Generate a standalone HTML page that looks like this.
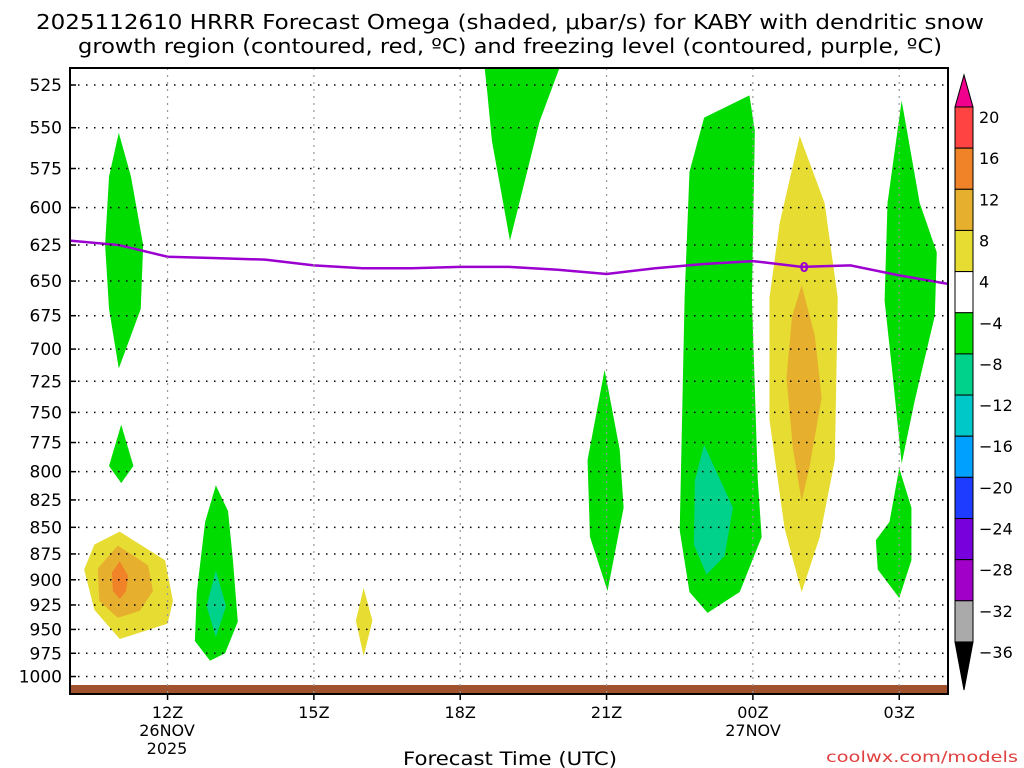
<!DOCTYPE html>
<html><head><meta charset="utf-8"><style>
body{margin:0;background:#fff;width:1024px;height:768px;overflow:hidden}
svg{display:block;font-family:"DejaVu Sans","Liberation Sans",sans-serif}
</style></head><body>
<svg id="c" width="1024" height="768"></svg>
<script>
const pressureTicks=[525,550,575,600,625,650,675,700,725,750,775,800,825,850,875,900,925,950,975,1000];
const timeTicks=[12,15,18,21,24,27];
const timeLabels=["12Z","15Z","18Z","21Z","00Z","03Z"];
const freezeHours=[10,11,12,13,14,15,16,17,18,19,20,21,22,23,24,25,26,27,28];
const freezeP=[622,625,633,634,635,639,641,641,640,640,642,645,641,638,636,640,639,646,652];
const cbLevels=["20","16","12","8","4","-4","-8","-12","-16","-20","-24","-28","-32","-36"];
const cbColors=["#ff4242","#f08228","#e6af2d","#e6dc32","#ffffff","#00dc00","#00d28c","#00c8c8","#00a0ff","#1e3cff","#7800dc","#a000c8","#aaaaaa"];
const shapes=[
{c:"#00dc00",pts:[[11.0,553],[11.25,580],[11.5,625],[11.45,670],[11.0,715],[10.8,670],[10.72,625],[10.8,580]]},
{c:"#00dc00",pts:[[11.05,760],[11.3,795],[11.05,810],[10.8,795]]},
{c:"#e6dc32",pts:[[11.02,854],[11.95,881],[12.11,921],[12.0,944],[11.02,960],[10.5,930],[10.29,890],[10.5,866]]},
{c:"#e6af2d",pts:[[10.98,867],[11.6,886],[11.7,911],[11.43,931],[10.98,938],[10.6,921],[10.57,889]]},
{c:"#f08228",pts:[[11.02,882],[11.19,896],[11.15,911],[11.02,919],[10.88,911],[10.86,893]]},
{c:"#00dc00",pts:[[12.99,812],[13.24,835],[13.34,881],[13.44,942],[13.18,975],[12.87,983],[12.56,962],[12.6,912],[12.77,845]]},
{c:"#00d28c",pts:[[12.99,891],[13.2,926],[12.99,958],[12.8,926]]},
{c:"#e6dc32",pts:[[16.02,908],[16.2,941],[16.02,978],[15.86,941]]},
{c:"#00dc00",pts:[[18.5,515],[20.04,515],[19.63,546],[19.02,622],[18.65,558],[18.55,528]]},
{c:"#00dc00",pts:[[20.96,716],[21.27,781],[21.35,832],[21.02,911],[20.66,859],[20.61,790]]},
{c:"#00dc00",pts:[[23.93,531],[23.0,544],[22.7,577],[22.6,662],[22.5,853],[22.7,912],[23.07,933],[23.73,912],[24.18,859],[24.1,807],[23.98,662],[24.04,552]]},
{c:"#00d28c",pts:[[23.0,777],[23.59,832],[23.42,877],[23.05,895],[22.79,866],[22.81,808]]},
{c:"#e6dc32",pts:[[24.96,555],[25.47,597],[25.74,662],[25.68,790],[25.37,859],[25.0,912],[24.65,851],[24.34,756],[24.34,662],[24.55,610]]},
{c:"#e6af2d",pts:[[25.0,653],[25.27,690],[25.41,738],[25.16,796],[25.0,826],[24.82,780],[24.69,722],[24.8,676]]},
{c:"#00dc00",pts:[[27.05,534],[27.42,597],[27.77,630],[27.73,675],[27.32,740],[27.05,793],[26.87,722],[26.7,664],[26.76,597]]},
{c:"#00dc00",pts:[[27.0,797],[27.25,832],[27.25,881],[27.0,918],[26.56,890],[26.52,862],[26.8,845]]}
];
const PL=70,PR=948,PT=68,PB=694;
const X=h=>PL+(h-10)*(PR-PL)/18;
const Y=p=>85+918*Math.log(p/525);
const svgRoot=document.getElementById('c');
const NS="http://www.w3.org/2000/svg";
function el(tag,attrs,parent){const e=document.createElementNS(NS,tag);for(const k in attrs)e.setAttribute(k,attrs[k]);(parent||svgRoot).appendChild(e);return e;}
const clip=el('clipPath',{id:'pc'});el('rect',{x:PL,y:PT,width:PR-PL,height:PB-PT},clip);
const g=el('g',{'clip-path':'url(#pc)'});
shapes.forEach((s,i)=>{const e=el('polygon',{points:s.pts.map(q=>X(q[0])+','+Y(q[1])).join(' '),fill:s.c,'stroke-linejoin':'round'},g);

});
const gr=el('rect',{x:PL,y:685,width:PR-PL,height:10,fill:'#a0522d'},g);


pressureTicks.forEach(p=>{const y=Y(p);
el('line',{x1:PL,x2:PR,y1:y,y2:y,stroke:'#000','stroke-dasharray':'1.5 6.5','stroke-width':1.5});
el('line',{x1:PL,x2:PL+6,y1:y,y2:y,stroke:'#000','stroke-width':1.5});
const t=el('text',{x:62,y:y+6,'text-anchor':'end','font-size':17});t.textContent=p;

});
timeTicks.forEach((h,i)=>{const x=X(h);
el('line',{x1:x,x2:x,y1:PT,y2:PB,stroke:'#999','stroke-dasharray':'2 5','stroke-width':1.2});
el('line',{x1:x,x2:x,y1:PB,y2:PB+6,stroke:'#000','stroke-width':1.5});
const t=el('text',{x:x,y:718,'text-anchor':'middle','font-size':16});t.textContent=timeLabels[i];

});
const fl=el('polyline',{points:freezeHours.map((h,i)=>X(h)+','+Y(freezeP[i])).join(' '),fill:'none',stroke:'#9b00d0','stroke-width':2.5},g);


const z=el('text',{x:X(25.05),y:Y(640)+5,'text-anchor':'middle','font-size':13,'font-weight':'bold',fill:'#9b00d0'});z.textContent='0';
el('rect',{x:PL,y:PT,width:PR-PL,height:PB-PT,fill:'none',stroke:'#000','stroke-width':2});
const cbX=955,cbW=18,cbTop=107,cbStep=41.15;
el('polygon',{points:`${cbX},${cbTop} ${cbX+cbW},${cbTop} ${cbX+cbW/2},75`,fill:'#f0008c',stroke:'#000'});
cbColors.forEach((c,i)=>{const r=el('rect',{x:cbX,y:cbTop+i*cbStep,width:cbW,height:cbStep,fill:c,stroke:'#000'});

});
const cbBot=cbTop+cbColors.length*cbStep;
el('polygon',{points:`${cbX},${cbBot} ${cbX+cbW},${cbBot} ${cbX+cbW/2},690`,fill:'#000',stroke:'#000'});
cbLevels.forEach((l,i)=>{const t=el('text',{x:979,y:cbTop+i*cbStep+16,'font-size':16});t.textContent=l.replace('-','\u2212');

});
function txt(s,x,y,size,attrs,name){const t=el('text',Object.assign({x:x,y:y,'font-size':size,'text-anchor':'middle'},attrs||{}));t.textContent=s;

return t;}
txt('2025112610 HRRR Forecast Omega (shaded, \u03bcbar/s) for KABY with dendritic snow',510,29,20,{textLength:948,lengthAdjust:'spacingAndGlyphs'},'title-line-1');
txt('growth region (contoured, red, \u00baC) and freezing level (contoured, purple, \u00baC)',510,53,20,{textLength:864,lengthAdjust:'spacingAndGlyphs'},'title-line-2');
txt('26NOV',167,736,16,{},'date-label');
txt('2025',167,754,16,{},'year-label');
txt('27NOV',753,736,16,{},'date-label-2');
txt('Forecast Time (UTC)',510,765,19,{textLength:214,lengthAdjust:'spacingAndGlyphs'},'x-axis-title');
txt('coolwx.com/models',1018,762,15,{'text-anchor':'end',fill:'#e04040',textLength:192,lengthAdjust:'spacingAndGlyphs'},'credit');
</script>
</body></html>
